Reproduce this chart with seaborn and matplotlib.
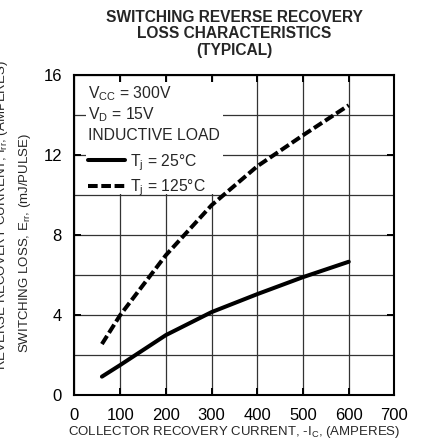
import matplotlib
matplotlib.use("Agg")
import matplotlib.pyplot as plt
import matplotlib.patches as patches
from matplotlib.ticker import MultipleLocator
import seaborn as sns
import pandas as pd

# values
ic_points = [60, 100, 200, 300, 400, 500, 600]
err_25c = [0.92, 1.5, 3.0, 4.15, 5.05, 5.9, 6.67]
err_125c = [2.55, 4.0, 7.0, 9.5, 11.45, 13.0, 14.5]
series_labels = ["T$_j$ = 25°C", "T$_j$ = 125°C"]
x_ticks = [0, 100, 200, 300, 400, 500, 600, 700]
y_ticks = [0, 4, 8, 12, 16]
conditions = ["V$_{CC}$ = 300V", "V$_D$ = 15V", "INDUCTIVE LOAD"]

df = pd.concat([
    pd.DataFrame({"ic": ic_points, "err": err_25c, "tj": series_labels[0]}),
    pd.DataFrame({"ic": ic_points, "err": err_125c, "tj": series_labels[1]}),
])

sns.set_style("ticks")
plt.rcParams["font.family"] = ["Liberation Sans", "DejaVu Sans"]
plt.rcParams["mathtext.default"] = "regular"

fig = plt.figure(figsize=(4.22, 4.46), dpi=100)
ax = fig.add_axes([0.1765, 0.1143, 0.7583, 0.7169])

sns.lineplot(data=df, x="ic", y="err", style="tj", color="black", lw=2.9,
             dashes={series_labels[0]: "", series_labels[1]: (2.4, 0.9)},
             legend=False, ax=ax)

ax.set_xlim(0, 700)
ax.set_ylim(0, 16)
ax.set_xticks(x_ticks)
ax.set_yticks(y_ticks)
ax.yaxis.set_minor_locator(MultipleLocator(2))
ax.set_axisbelow(True)
ax.grid(True, which="major", axis="x", color="#333333", lw=0.9)
ax.grid(True, which="both", axis="y", color="#333333", lw=0.9)
ax.tick_params(which="major", direction="in", length=5, width=1.4,
               top=True, right=True, labelsize=12, pad=9, colors="black")
ax.tick_params(which="minor", length=0)
for s in ax.spines.values():
    s.set_linewidth(1.5)
    s.set_color("black")
ax.set_xlabel("")
ax.set_ylabel("")

# white panel behind the conditions text
ax.add_patch(patches.Rectangle((25, 10.05), 300, 5.6, facecolor="white",
                               edgecolor="none", zorder=1))

for i, t in enumerate(conditions):
    ax.text(29, 15.1 - i * 1.05, t, fontsize=11.3, va="center", ha="left",
            zorder=3)

lines = ax.get_lines()
ax.legend(lines[:2], series_labels, loc="upper left",
          bbox_to_anchor=(0.042, 0.76), frameon=False, fontsize=11.3,
          handlelength=2.35, handletextpad=0.3, borderpad=0,
          borderaxespad=0, labelspacing=0.3)

fig.text(0.5545, 0.924, "SWITCHING REVERSE RECOVERY\nLOSS CHARACTERISTICS\n(TYPICAL)",
         ha="center", va="center", fontsize=11.2, fontweight="bold",
         linespacing=1.12)
fig.text(0.5545, 0.031, "COLLECTOR RECOVERY CURRENT, -I$_C$, (AMPERES)",
         ha="center", va="center", fontsize=9.5)
fig.text(0.059, 0.455, "SWITCHING LOSS, E$_{rr}$, (mJ/PULSE)",
         ha="center", va="center", rotation=90, fontsize=9.5)
fig.text(0.004, 0.518, "REVERSE RECOVERY CURRENT, I$_{rr}$, (AMPERES)",
         ha="center", va="center", rotation=90, fontsize=9.5)

fig.savefig("out.png", dpi=100)
